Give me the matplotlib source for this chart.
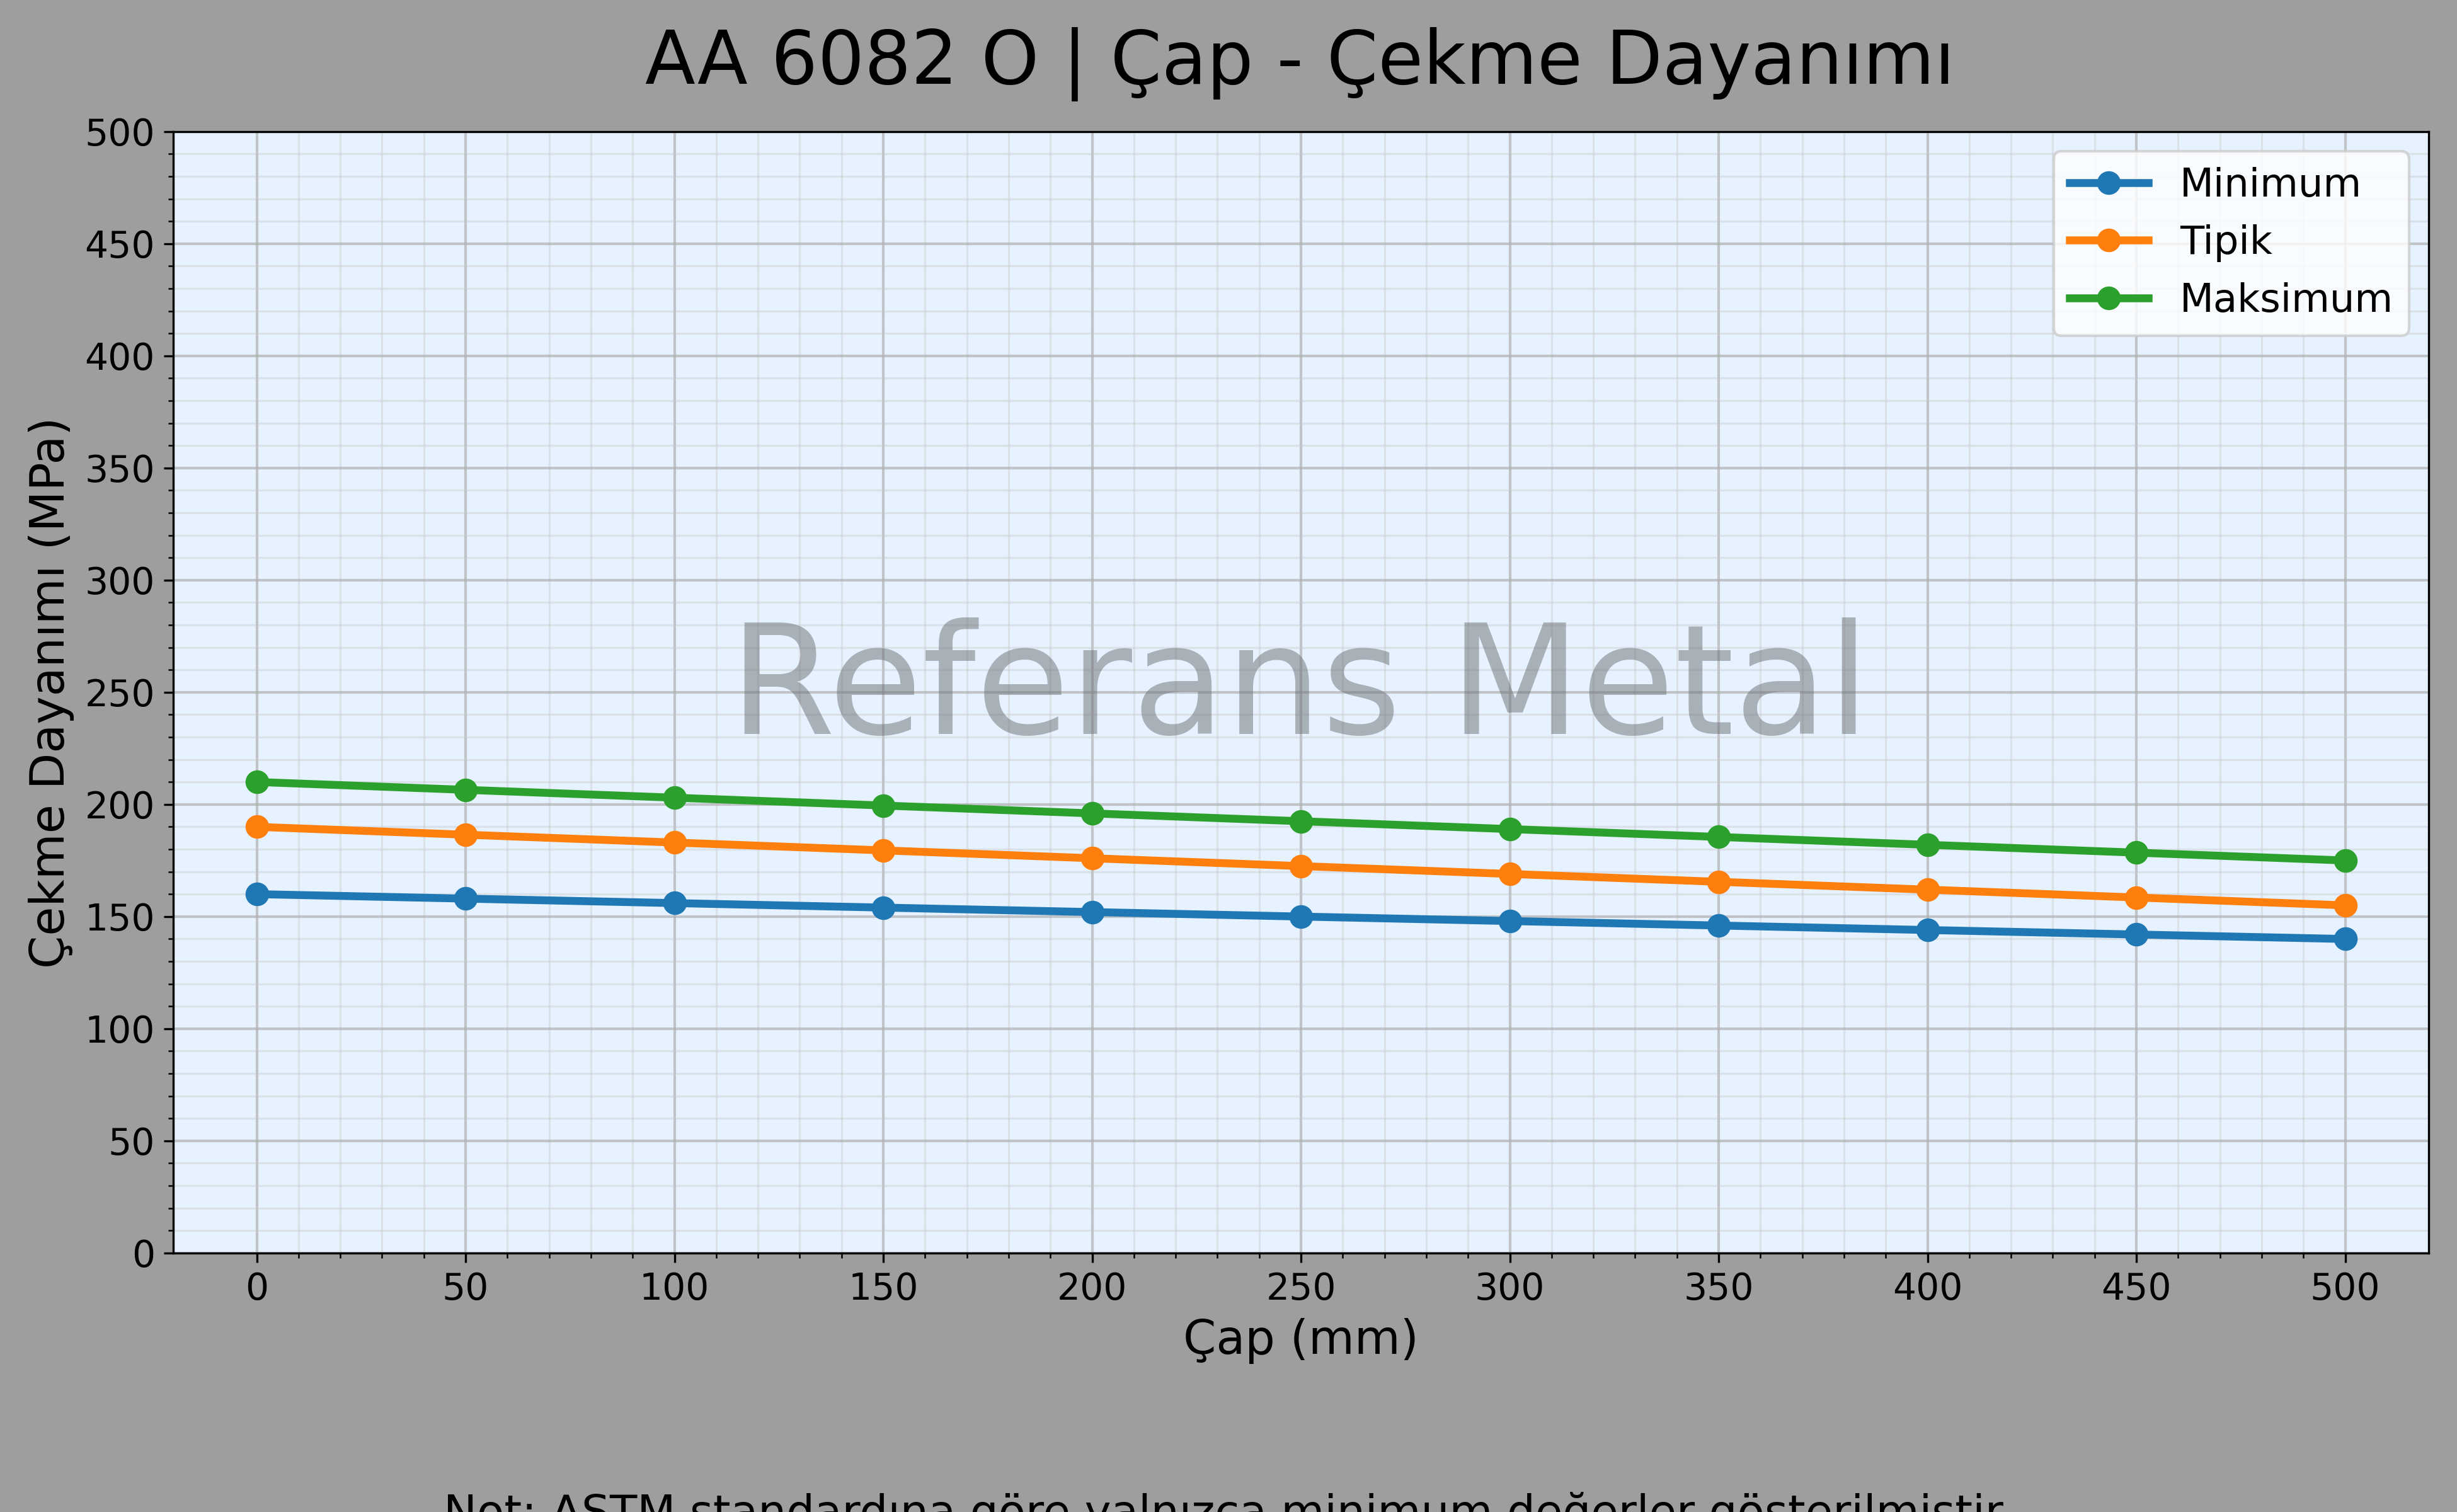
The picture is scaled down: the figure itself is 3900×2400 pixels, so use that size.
import matplotlib
matplotlib.use("Agg")
import matplotlib.pyplot as plt
from matplotlib.ticker import MultipleLocator, FixedLocator

cap_mm = [0, 50, 100, 150, 200, 250, 300, 350, 400, 450, 500]
minimum = [160, 158, 156, 154, 152, 150, 148, 146, 144, 142, 140]
tipik = [190, 186.5, 183, 179.5, 176, 172.5, 169, 165.5, 162, 158.5, 155]
maksimum = [210, 206.5, 203, 199.5, 196, 192.5, 189, 185.5, 182, 178.5, 175]

fig = plt.figure(figsize=(13, 8), dpi=300, facecolor="#9e9e9e")
ax = fig.add_axes([0.0705, 0.1713, 0.918, 0.7417])
ax.set_facecolor("#e6f2ff")

ax.plot(cap_mm, minimum, marker="o", lw=3, ms=8, color="#1f77b4", label="Minimum")
ax.plot(cap_mm, tipik, marker="o", lw=3, ms=8, color="#ff7f0e", label="Tipik")
ax.plot(cap_mm, maksimum, marker="o", lw=3, ms=8, color="#2ca02c", label="Maksimum")

ax.set_xlim(-20, 520)
ax.set_ylim(0, 500)
ax.xaxis.set_major_locator(MultipleLocator(50))
ax.xaxis.set_minor_locator(FixedLocator(list(range(0, 501, 10))))
ax.yaxis.set_major_locator(MultipleLocator(50))
ax.yaxis.set_minor_locator(FixedLocator(list(range(0, 501, 10))))
ax.grid(which="major", color="#b0b0b0", alpha=0.7, lw=1.0)
ax.grid(which="minor", color="#c8c8c8", alpha=0.4, lw=0.8)
ax.set_axisbelow(True)
ax.tick_params(labelsize=14)

ax.set_xlabel("Çap (mm)", fontsize=18)
ax.set_ylabel("Çekme Dayanımı (MPa)", fontsize=18)
fig.text(0.529, 0.9446, "AA 6082 O | Çap - Çekme Dayanımı", fontsize=28,
         ha="center", va="baseline")

fig.text(0.529, 0.5146, "Referans Metal", fontsize=58,
         color="#6c6f73", alpha=0.5, ha="center", va="baseline")

ax.legend(loc="upper right", fontsize=15, framealpha=0.8)

fig.text(0.5, -0.01, "Not: ASTM standardına göre yalnızca minimum değerler gösterilmiştir.",
         ha="center", va="baseline", fontsize=17)

fig.savefig("out.png", dpi=300, facecolor=fig.get_facecolor())
